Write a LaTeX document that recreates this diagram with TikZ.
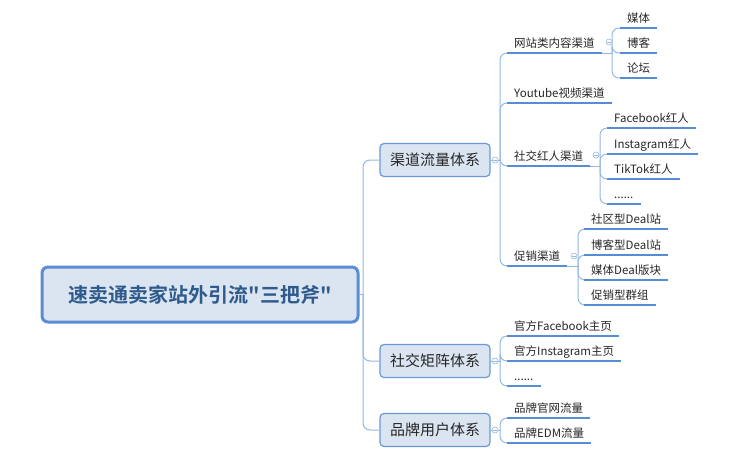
\documentclass[tikz,border=0pt]{standalone}
\usepackage{fontspec}
\setmainfont{Noto Sans CJK SC}[BoldFont={Noto Sans CJK SC Bold}]
\newfontfamily\plainq{Noto Sans CJK SC}[BoldFont={Noto Sans CJK SC Bold}]
\usepackage{xcolor}
\usepackage{tikz}
\definecolor{linec}{HTML}{95B8E3}
\definecolor{ulc}{HTML}{558ED5}
\definecolor{boxf}{HTML}{DBE5F1}
\definecolor{boxd}{HTML}{6A9AD6}
\definecolor{rootd}{HTML}{5B8DD3}
\definecolor{roott}{HTML}{2E5A8C}
\definecolor{txt}{HTML}{262626}

\begin{document}
\begin{tikzpicture}[x=1pt, y=-1pt, line cap=round,
    root/.style = {draw=rootd, fill=boxf, line width=3pt, rounded corners=6pt, minimum width=316pt, minimum height=55pt, text=roott, font=\bfseries\fontsize{20}{24}\selectfont},
    main/.style = {draw=boxd, fill=boxf, line width=1.2pt, rounded corners=4pt, minimum width=110pt, minimum height=33pt, text=txt, font=\fontsize{15}{18}\selectfont},
    leaf/.style = {anchor=south west, inner xsep=7pt, inner ysep=3pt, text height=9pt, text depth=2.5pt, text=txt, font=\fontsize{11.5}{13}\selectfont},
    fold/.style = {circle, draw=linec, fill=white, line width=0.6pt, minimum size=6pt, inner sep=0pt,
        path picture={\draw[linec, line width=0.6pt] ([xshift=-1.6pt]path picture bounding box.center) -- ([xshift=1.6pt]path picture bounding box.center);}},
    conn/.style = {draw=linec, line width=1pt, rounded corners=7pt},
    uline/.style = {draw=ulc, line width=2pt, line cap=butt}]
    \useasboundingbox (0,0) rectangle (755,467);

    % root and the three systems
    \node[root] (0) at (200,294.5) {速卖通卖家站外引流{\plainq"}三把斧{\plainq"}};
    \node[main] (1) at (435,160) {渠道流量体系};
    \node[main] (2) at (435,361) {社交矩阵体系};
    \node[main] (3) at (435,430) {品牌用户体系};

    % second level
    \node[leaf] (11) at (507,53)  {网站类内容渠道};
    \node[leaf] (12) at (507,103) {Youtube视频渠道};
    \node[leaf] (13) at (507,166) {社交红人渠道};
    \node[leaf] (14) at (507,266) {促销渠道};
    \node[leaf] (21) at (507,336) {官方Facebook主页};
    \node[leaf] (22) at (507,361) {官方Instagram主页};
    \node[leaf] (23) at (507,386) {......};
    \node[leaf] (31) at (507,418) {品牌官网流量};
    \node[leaf] (32) at (507,443) {品牌EDM流量};

    % third level
    \node[leaf] (111) at (620,28) {媒体};
    \node[leaf] (112) at (620,53) {博客};
    \node[leaf] (113) at (620,78) {论坛};
    \node[leaf] (131) at (607,128) {Facebook红人};
    \node[leaf] (132) at (607,154) {Instagram红人};
    \node[leaf] (133) at (607,179) {TikTok红人};
    \node[leaf] (134) at (607,204) {......};
    \node[leaf] (141) at (584,229) {社区型Deal站};
    \node[leaf] (142) at (584,255) {博客型Deal站};
    \node[leaf] (143) at (584,280) {媒体Deal版块};
    \node[leaf] (144) at (584,305) {促销型群组};

    % fork points
    \coordinate (t0)  at (363,294.5);
    \coordinate (t1)  at (500,160);
    \coordinate (t2)  at (500,361);
    \coordinate (t3)  at (500,430);
    \coordinate (t11) at (612,53);
    \coordinate (t13) at (600,166);
    \coordinate (t14) at (578,266);

    % connectors
    \draw[conn] (0.east) -- (t0);
    \foreach \n in {1,2,3}
        \draw[conn] (t0) |- (\n.west);
    \draw[conn] (1.east) -- (t1);
    \draw[conn] (2.east) -- (t2);
    \draw[conn] (3.east) -- (t3);
    \foreach \n in {11,12,13,14}
        \draw[conn] (t1) |- (\n.south west);
    \foreach \n in {21,22,23}
        \draw[conn] (t2) |- (\n.south west);
    \foreach \n in {31,32}
        \draw[conn] (t3) |- (\n.south west);
    \draw[conn] (11.south east) -- (t11);
    \draw[conn] (13.south east) -- (t13);
    \draw[conn] (14.south east) -- (t14);
    \foreach \n in {111,112,113}
        \draw[conn] (t11) |- (\n.south west);
    \foreach \n in {131,132,133,134}
        \draw[conn] (t13) |- (\n.south west);
    \foreach \n in {141,142,143,144}
        \draw[conn] (t14) |- (\n.south west);

    % underlines
    \foreach \n in {11,12,13,14,21,22,23,31,32,111,112,113,131,132,133,134,141,142,143,144}
        \draw[uline] (\n.south west) -- (\n.south east);

    % fold marks
    \node[fold] (f1) at (495,160) {};
    \node[fold] (f2) at (495,361) {};
    \node[fold] (f3) at (495,430) {};
    \node[fold] (f11) at (609,42) {};
    \node[fold] (f13) at (596,155) {};
    \node[fold] (f14) at (574,256) {};
\end{tikzpicture}
\end{document}
